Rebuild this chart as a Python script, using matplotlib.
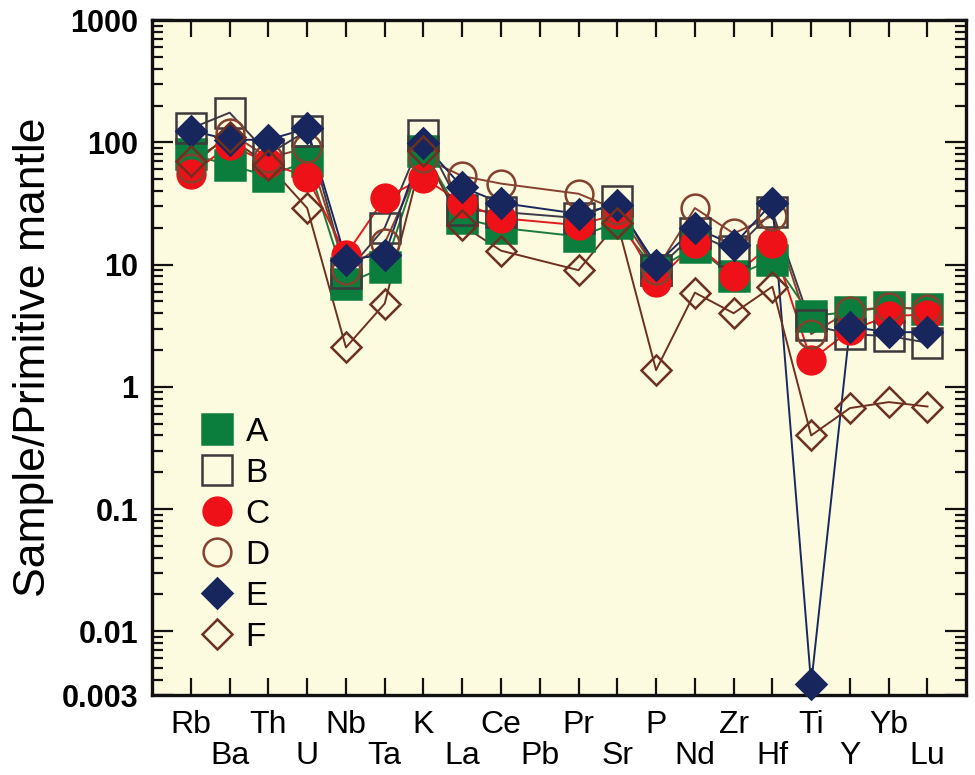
import numpy as np
import matplotlib
matplotlib.use('Agg')
import matplotlib.pyplot as plt
from matplotlib.lines import Line2D

# element order on the spider diagram (Pb has no data)
elements = ['Rb', 'Ba', 'Th', 'U', 'Nb', 'Ta', 'K', 'La', 'Ce', 'Pb',
            'Pr', 'Sr', 'P', 'Nd', 'Zr', 'Hf', 'Ti', 'Y', 'Yb', 'Lu']

A = [80, 65, 53, 70, 7, 9.5, 85, 24, 20, None, 17, 22, 9, 14, 8, 11, 3.8, 4.1, 4.5, 4.3]
B = [130, 175, 80, 125, 8.5, 20, 115, 28, 27, None, 24, 33, 9, 18, 13, 27, 3.2, 2.7, 2.6, 2.3]
C = [55, 95, 68, 52, 12, 35, 51, 32, 24, None, 21, 26, 7.2, 15, 8, 15, 1.65, 2.9, 3.8, 3.9]
D = [62, 120, 75, 90, 9, 15, 75, 53, 46, None, 38, 28, 9, 29, 18, 25, 2.7, 4.2, 4.5, 4.3]
E = [125, 105, 105, 130, 11, 12, 98, 43, 32, None, 26, 31, 10, 20, 14.5, 32, 0.0037, 3.1, 2.8, 2.8]
F = [70, 110, 65, 29, 2.1, 4.8, 85, 21, 13, None, 9, 22, 1.37, 5.9, 4, 6.6, 0.40, 0.67, 0.75, 0.69]

series_names = ['A', 'B', 'C', 'D', 'E', 'F']
series_data = [A, B, C, D, E, F]

ytick_vals = [0.003, 0.01, 0.1, 1, 10, 100, 1000]
ytick_text = ['0.003', '0.01', '0.1', '1', '10', '100', '1000']

# marker, size, face, edge, line colour
styles = [
    ('s', 21, '#0b7d3d', '#0b7d3d', '#1b7a3c'),
    ('s', 21, 'none', '#3d393c', '#3b3a48'),
    ('o', 20, '#ee1118', '#ee1118', '#e01c1c'),
    ('o', 20, 'none', '#84412e', '#8a4030'),
    ('D', 15, '#17265c', '#17265c', '#1a2860'),
    ('D', 15, 'none', '#6d3021', '#6e3020'),
]

fig, ax = plt.subplots(figsize=(9.75, 7.75), dpi=100)
fig.subplots_adjust(left=0.156, right=0.991, top=0.974, bottom=0.103)
ax.set_facecolor('#fdfbdf')

x = np.arange(1, len(elements) + 1)
for vals, st in zip(series_data, styles):
    xs = [xi for xi, v in zip(x, vals) if v is not None]
    ys = [v for v in vals if v is not None]
    ax.plot(xs, ys, '-', color=st[4], lw=1.4, zorder=2)
    ax.plot(xs, ys, ls='none', marker=st[0], ms=st[1], mfc=st[2], mec=st[3],
            mew=1.8, zorder=3, clip_on=False)

ax.set_yscale('log')
ax.set_ylim(0.003, 1000)
ax.set_xlim(0, 21)

ax.set_yticks(ytick_vals, ytick_text, fontsize=22, fontweight='bold',
              fontfamily='Liberation Sans')
ax.set_xticks(x[0::2], elements[0::2], fontsize=23, fontfamily='Liberation Sans')
ax.set_xticks(x[1::2], elements[1::2], minor=True, fontsize=23,
              fontfamily='Liberation Sans')

ax.tick_params(axis='both', which='both', direction='in', top=True, right=True,
               width=1.6, color='#111111')
ax.tick_params(axis='x', which='both', length=12)
ax.tick_params(axis='x', which='major', pad=11)
ax.tick_params(axis='x', which='minor', pad=33)
ax.tick_params(axis='y', which='major', length=15, pad=10)
ax.tick_params(axis='y', which='minor', length=8)
for sp in ax.spines.values():
    sp.set_linewidth(2.4)
    sp.set_color('#111111')

ax.set_ylabel('Sample/Primitive mantle', fontsize=32, fontfamily='Liberation Sans')
ax.yaxis.set_label_coords(-0.12, 0.5)

handles = [Line2D([], [], ls='none', marker=st[0], ms=st[1], mfc=st[2],
                  mec=st[3], mew=1.8) for st in styles]
ax.legend(handles, series_names, loc='upper left', bbox_to_anchor=(0.035, 0.437),
          frameon=False, prop={'family': 'Liberation Sans', 'size': 24},
          labelspacing=0.3, handletextpad=0.25, borderpad=0, handlelength=1.2)

fig.savefig('out.png', dpi=100)
